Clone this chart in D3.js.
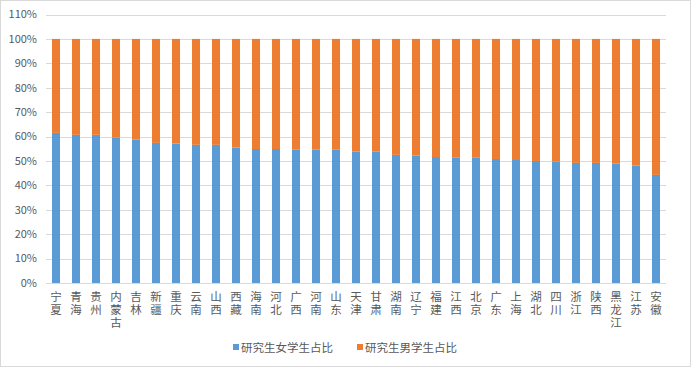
<!DOCTYPE html>
<html><head><meta charset="utf-8">
<script src="https://cdn.jsdelivr.net/npm/d3@7"></script>
<style>
html,body{margin:0;padding:0;background:#fff;}
svg{display:block;}
text{font-family:"Noto Sans CJK SC","Microsoft YaHei",sans-serif;}
</style></head>
<body>
<svg id="chart" width="691" height="367"></svg>
<script>
const categories = ["宁夏","青海","贵州","内蒙古","吉林","新疆","重庆","云南","山西","西藏","海南","河北","广西","河南","山东","天津","甘肃","湖南","辽宁","福建","江西","北京","广东","上海","湖北","四川","浙江","陕西","黑龙江","江苏","安徽"];
const femaleShare = [61.5,60.7,60.7,59.6,58.8,57.4,57.1,56.6,56.6,55.5,54.9,54.9,54.6,54.6,54.6,53.8,53.8,52.5,52.2,51.6,51.5,51.5,50.8,50.4,50.0,49.7,49.2,49.2,48.9,48.1,44.3];
const maleShare = femaleShare.map(v => 100 - v);
const yTicks = [0,10,20,30,40,50,60,70,80,90,100,110];
const seriesNames = ["研究生女学生占比","研究生男学生占比"];
const colors = ["#5B9BD5","#ED7D31"];

const svg = d3.select("#chart");
svg.append("rect").attr("x",0.5).attr("y",0.5).attr("width",690).attr("height",366)
  .attr("fill","#fff").attr("stroke","#d9d9d9");

const pLeft = 46, pRight = 666, pTop = 14.5, pBottom = 283;
const x = d3.scaleBand().domain(categories).range([pLeft, pRight]).paddingInner(0.6).paddingOuter(0.3);
const y = d3.scaleLinear().domain([0,110]).range([pBottom, pTop]);

// gridlines
svg.append("g").selectAll("line").data(yTicks.filter(t=>t>0)).join("line")
  .attr("x1",pLeft).attr("x2",pRight)
  .attr("y1",d=>Math.round(y(d))+0.5).attr("y2",d=>Math.round(y(d))+0.5)
  .attr("stroke","#d9d9d9").attr("stroke-width",1);

// y tick labels
svg.append("g").selectAll("text").data(yTicks).join("text")
  .attr("x",37).attr("y",d=>y(d)).attr("dy","0.35em")
  .attr("text-anchor","end").attr("font-size",11).attr("fill","#595959")
  .text(d=>d+"%");

// bars
const stackData = categories.map((c,i)=>({cat:c, f:femaleShare[i], m:maleShare[i]}));
const stack = d3.stack().keys(["f","m"])(stackData);
svg.append("g").selectAll("g").data(stack).join("g")
  .attr("fill",(d,i)=>colors[i])
  .selectAll("rect").data(d=>d).join("rect")
  .attr("x",d=>x(d.data.cat)).attr("width",x.bandwidth())
  .attr("y",d=>y(d[1])).attr("height",d=>y(d[0])-y(d[1]));

// x axis line
svg.append("line").attr("x1",pLeft).attr("x2",pRight)
  .attr("y1",pBottom+0.5).attr("y2",pBottom+0.5).attr("stroke","#d9d9d9");

// category labels (vertical, one character per line)
const chars = [];
categories.forEach(c => Array.from(c).forEach((ch,k) => chars.push({cat:c, ch, k})));
svg.append("g").selectAll("text").data(chars).join("text")
  .attr("text-anchor","middle").attr("font-size",11.5).attr("fill","#595959")
  .attr("x",d=>x(d.cat)+x.bandwidth()/2)
  .attr("y",d=>301 + d.k*13)
  .text(d=>d.ch);

// legend
const legX = [233, 357];
const leg = svg.append("g").selectAll("g").data(seriesNames).join("g")
  .attr("transform",(d,i)=>`translate(${legX[i]},348)`);
leg.append("rect").attr("x",0).attr("y",-4).attr("width",6).attr("height",6).attr("fill",(d,i)=>colors[i]);
leg.append("text").attr("x",8).attr("y",0).attr("dy","0.35em").attr("font-size",11.5).attr("fill","#595959").text(d=>d);
</script>
</body></html>
